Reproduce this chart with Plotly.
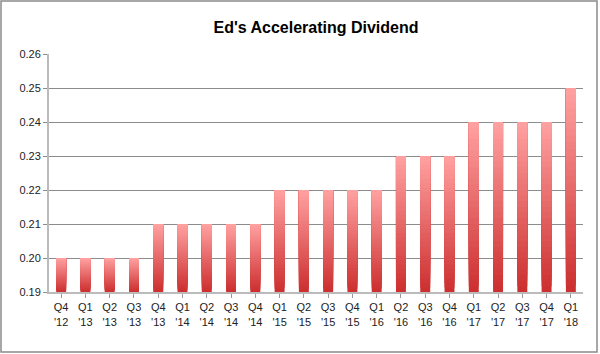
import plotly.graph_objects as go

quarters = ["Q4<br>'12", "Q1<br>'13", "Q2<br>'13", "Q3<br>'13", "Q4<br>'13", "Q1<br>'14",
            "Q2<br>'14", "Q3<br>'14", "Q4<br>'14", "Q1<br>'15", "Q2<br>'15", "Q3<br>'15",
            "Q4<br>'15", "Q1<br>'16", "Q2<br>'16", "Q3<br>'16", "Q4<br>'16", "Q1<br>'17",
            "Q2<br>'17", "Q3<br>'17", "Q4<br>'17", "Q1<br>'18"]
dividend = [0.20, 0.20, 0.20, 0.20, 0.21, 0.21, 0.21, 0.21, 0.21, 0.22, 0.22, 0.22,
            0.22, 0.22, 0.23, 0.23, 0.23, 0.24, 0.24, 0.24, 0.24, 0.25]
y_ticks = [0.19, 0.20, 0.21, 0.22, 0.23, 0.24, 0.25, 0.26]

axis_min = 0.19
n_seg = 30
top_rgb = (255, 160, 160)
bot_rgb = (205, 48, 48)

fig = go.Figure()
for k in range(n_seg):
    t = k / (n_seg - 1)  # 0 bottom -> 1 top
    c = tuple(round(b + (tp - b) * t) for b, tp in zip(bot_rgb, top_rgb))
    base = [axis_min + k * (v - axis_min) / n_seg for v in dividend]
    height = [v - b for v, b in zip(dividend, base)]
    fig.add_trace(go.Bar(
        x=list(range(len(quarters))), y=height, base=base,
        marker=dict(color=f"rgb{c}", line=dict(width=0)),
        width=0.41, hoverinfo="skip", showlegend=False,
    ))

W, H = 600, 354
ml, mr, mt, mb = 49, 17, 54, 62
pw, ph = W - ml - mr, H - mt - mb

fig.update_layout(
    width=W, height=H, barmode="overlay",
    margin=dict(l=ml, r=mr, t=mt, b=mb),
    paper_bgcolor="white", plot_bgcolor="white",
    font=dict(family="Liberation Sans, Arial, sans-serif", size=11, color="#222"),
    title=dict(text="<b>Ed's Accelerating Dividend</b>", x=0.5, xref="paper",
               y=1 - 27 / H, yref="container", xanchor="center", yanchor="middle",
               font=dict(size=16, color="#000")),
    xaxis=dict(
        tickmode="array", tickvals=list(range(len(quarters))), ticktext=quarters,
        range=[-0.5, len(quarters) - 0.5], showgrid=False,
        showline=True, linecolor="#bbbbbb", linewidth=2,
        ticks="outside", ticklen=4, tickcolor="#999", zeroline=False,
        tickfont=dict(size=11, color="#222"),
    ),
    yaxis=dict(
        range=[0.19, 0.26], tickvals=y_ticks, tickformat=".2f",
        showgrid=True, gridcolor="#8c8c8c", gridwidth=1,
        showline=True, linecolor="#bbbbbb", linewidth=2,
        ticks="outside", ticklen=4, tickcolor="#8c8c8c", zeroline=False,
        tickfont=dict(size=11, color="#222"),
    ),
    shapes=[dict(type="rect", xref="paper", yref="paper",
                 x0=(-ml + 1) / pw, x1=(pw + mr - 3) / pw,
                 y0=(-mb + 2) / ph, y1=(ph + mt - 1) / ph,
                 line=dict(color="#8a8a8a", width=1.5), fillcolor="rgba(0,0,0,0)",
                 layer="above")],
)
fig.write_html("out.html")
